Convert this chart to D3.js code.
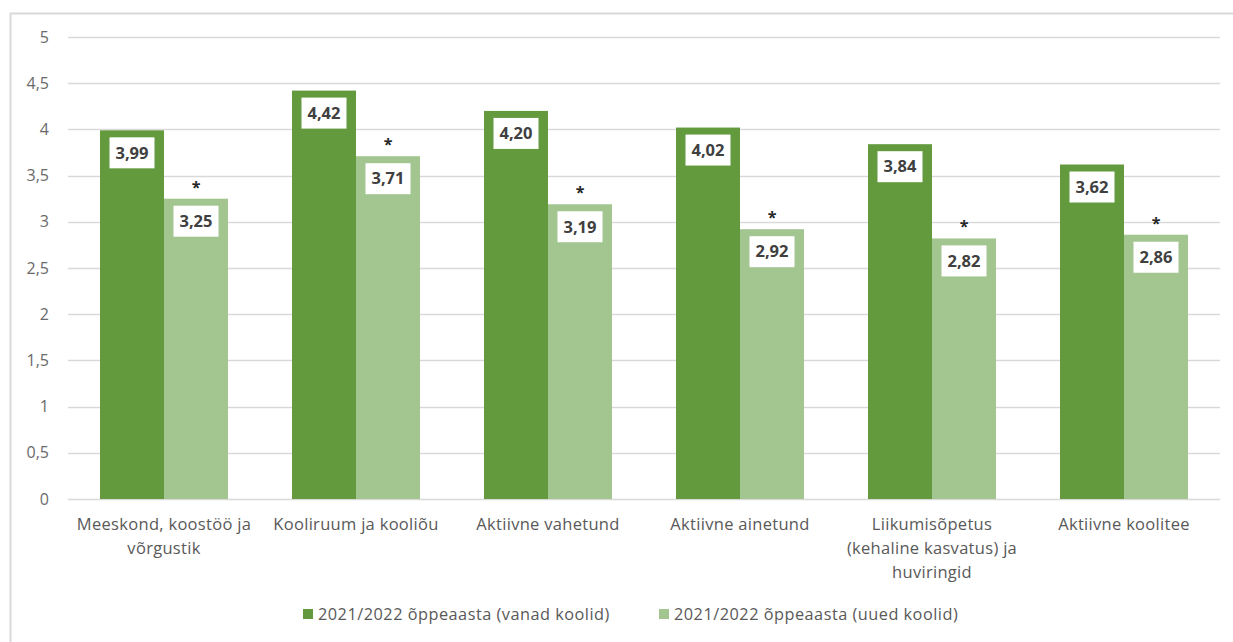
<!DOCTYPE html>
<html>
<head>
<meta charset="utf-8">
<script src="https://cdn.jsdelivr.net/npm/d3@7"></script>
<style>
    body { margin: 0; background: #fff; }
    svg { display: block; font-family: "Open Sans", "Noto Sans", sans-serif; }
</style>
</head>
<body>
<svg id="chart"></svg>
<script>
// Grouped bar chart: two school-year series per category, values on white boxes

const categories = [
    ["Meeskond, koostöö ja", "võrgustik"],
    ["Kooliruum ja kooliõu"],
    ["Aktiivne vahetund"],
    ["Aktiivne ainetund"],
    ["Liikumisõpetus", "(kehaline kasvatus) ja", "huviringid"],
    ["Aktiivne koolitee"]
];
const seriesNames = ["2021/2022 õppeaasta (vanad koolid)", "2021/2022 õppeaasta (uued koolid)"];
const oldSchools = [3.99, 4.42, 4.20, 4.02, 3.84, 3.62];
const newSchools = [3.25, 3.71, 3.19, 2.92, 2.82, 2.86];
const yTicks = [0, 0.5, 1, 1.5, 2, 2.5, 3, 3.5, 4, 4.5, 5];

const width = 1233, height = 642;
const colors = ["#629a3d", "#a3c590"];

const svg = d3.select("#chart").attr("width", width).attr("height", height);

// frame of the chart area
svg.append("path")
    .attr("d", `M10.5,${height} V13.5 H${width}`)
    .attr("fill", "none")
    .attr("stroke", "#d9d9d9")
    .attr("stroke-width", 2);

const plot = { left: 68, right: 1220, top: 37, bottom: 499 };

const y = d3.scaleLinear().domain([0, 5]).range([plot.bottom, plot.top]);
const x0 = d3.scaleBand()
    .domain(d3.range(categories.length))
    .range([plot.left, plot.right]);
const x1 = d3.scaleBand()
    .domain([0, 1])
    .range([x0.bandwidth() / 6, x0.bandwidth() * 5 / 6]);

// gridlines
svg.append("g")
    .selectAll("line")
    .data(yTicks)
    .join("line")
    .attr("x1", plot.left)
    .attr("x2", plot.right)
    .attr("y1", d => Math.round(y(d)) + 0.5)
    .attr("y2", d => Math.round(y(d)) + 0.5)
    .attr("stroke", "#d9d9d9")
    .attr("stroke-width", 1.5);

// y axis labels
const fmt = d => String(d).replace(".", ",");
svg.append("g")
    .selectAll("text")
    .data(yTicks)
    .join("text")
    .attr("x", 49)
    .attr("y", d => y(d))
    .attr("dy", "0.35em")
    .attr("text-anchor", "end")
    .attr("font-size", 16)
    .attr("fill", "#6a6a6a")
    .text(fmt);

const rows = categories.map((c, i) => ({ i, values: [oldSchools[i], newSchools[i]] }));

const groups = svg.append("g")
    .selectAll("g")
    .data(rows)
    .join("g")
    .attr("transform", d => `translate(${x0(d.i)},0)`);

const bars = groups.selectAll("g.bar")
    .data(d => d.values.map((v, s) => ({ v, s })))
    .join("g")
    .attr("class", "bar");

bars.append("rect")
    .attr("x", d => x1(d.s))
    .attr("width", x1.bandwidth())
    .attr("y", d => y(d.v))
    .attr("height", d => y(0) - y(d.v))
    .attr("fill", d => colors[d.s]);

// value labels in white boxes
bars.each(function(d) {
    const g = d3.select(this);
    const cx = x1(d.s) + x1.bandwidth() / 2;
    const top = y(d.v) + 7;
    const t = g.append("text")
        .attr("x", cx)
        .attr("y", top + 15.5)
        .attr("dy", "0.35em")
        .attr("text-anchor", "middle")
        .attr("font-size", 16.5)
        .attr("font-weight", "bold")
        .attr("fill", "#404040")
        .text(d.v.toFixed(2).replace(".", ","));
    const w = t.node().getComputedTextLength() + 12;
    g.insert("rect", "text")
        .attr("x", cx - w / 2)
        .attr("y", top)
        .attr("width", w)
        .attr("height", 31)
        .attr("fill", "#fff");
    if (d.s === 1) {
        g.append("text")
            .attr("x", cx)
            .attr("y", y(d.v) - 6)
            .attr("text-anchor", "middle")
            .attr("font-size", 16)
            .attr("font-weight", "bold")
            .attr("fill", "#262626")
            .text("*");
    }
});

// category labels
svg.append("g")
    .selectAll("text")
    .data(categories)
    .join("text")
    .attr("x", (d, i) => x0(i) + x0.bandwidth() / 2)
    .attr("y", 530)
    .attr("text-anchor", "middle")
    .attr("font-size", 16.5)
    .attr("letter-spacing", 0.3)
    .attr("fill", "#595959")
    .selectAll("tspan")
    .data(d => d)
    .join("tspan")
    .attr("x", function() { return this.parentNode.getAttribute("x"); })
    .attr("dy", (d, k) => k === 0 ? 0 : 24)
    .text(d => d);

// legend
const legendX = [303, 659];
const legend = svg.append("g")
    .selectAll("g")
    .data(seriesNames)
    .join("g")
    .attr("transform", (d, i) => `translate(${legendX[i]},614)`);
legend.append("rect")
    .attr("y", -5)
    .attr("width", 10)
    .attr("height", 10)
    .attr("fill", (d, i) => colors[i]);
legend.append("text")
    .attr("x", 15)
    .attr("dy", "0.35em")
    .attr("font-size", 16.3)
    .attr("letter-spacing", 0.5)
    .attr("fill", "#595959")
    .text(d => d);
</script>
</body>
</html>
